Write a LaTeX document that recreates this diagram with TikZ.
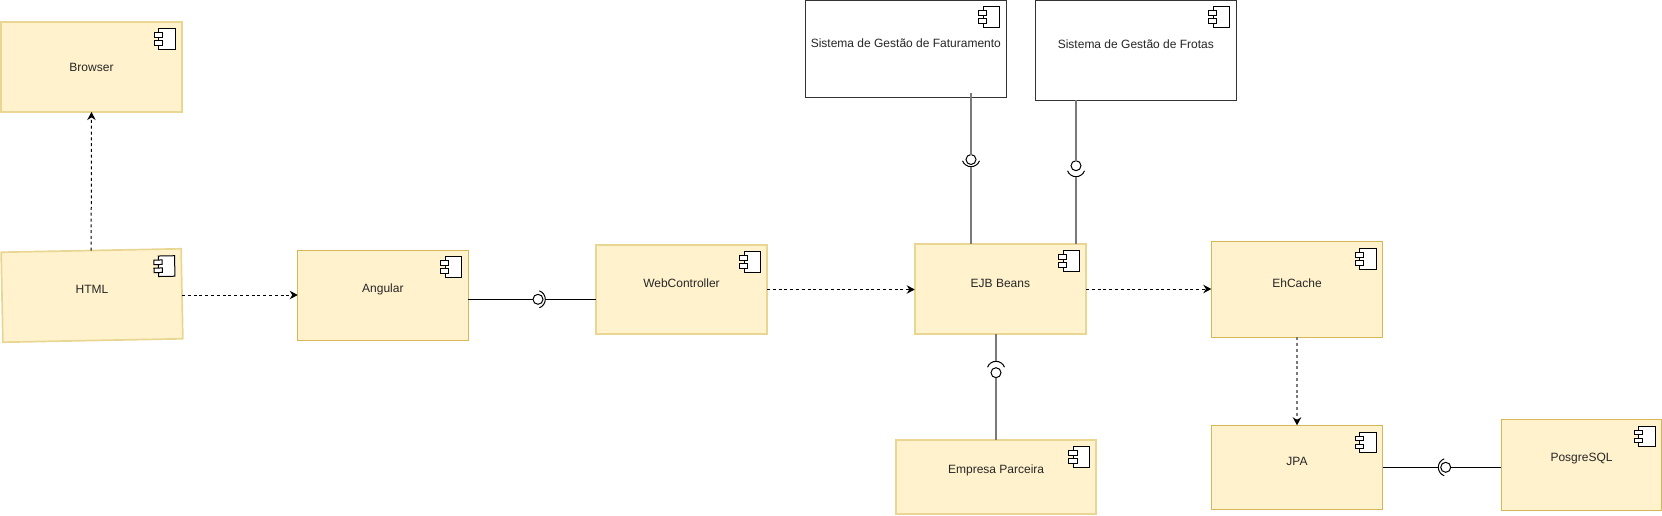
\documentclass[tikz,border=0pt]{standalone}
\usepackage{fontspec}
\setmainfont{Liberation Sans}
\usepackage{xcolor}
\usepackage{tikz}
\usetikzlibrary{arrows.meta}
\usetikzlibrary{positioning}
\definecolor{compFill}{HTML}{FFF2CC}
\definecolor{compLine}{HTML}{D6B656}
\definecolor{compSoft}{HTML}{E9D693}
\tikzstyle{comp} = [rectangle, inner sep=0pt, outer sep=0pt, fill=compFill, draw=compLine, line width=1pt]
\tikzstyle{compPale} = [comp, draw=compSoft, line width=1.7pt]
\tikzstyle{extern} = [rectangle, inner sep=0pt, outer sep=0pt, fill=white, draw=black!80, line width=1pt]
\tikzstyle{lab} = [font=\fontsize{12}{14}\selectfont, text=black!85, yshift=6pt]
\tikzstyle{icon} = [draw=black, fill=white, line width=1pt]
\tikzstyle{lolly} = [circle, inner sep=0pt, outer sep=0pt, minimum size=10pt, draw=black, line width=1pt]
\tikzstyle{sockLine} = [draw=black, line width=1pt]
\tikzstyle{link} = [draw=black, line width=1pt]
\tikzstyle{linkGray} = [draw=black!52, line width=1.8pt]
\tikzstyle{arrow} = [draw=black, line width=1pt, dash pattern=on 3pt off 2.8pt, -{Stealth[length=8pt,width=8.5pt]}]
\tikzstyle{arrowGray} = [arrow, draw=black!52, line width=1.7pt, -{Stealth[length=8pt,width=8.5pt,black]}]
\newcommand{\compicon}[2]{
    \begin{scope}[shift={(#1.north east)}, rotate=#2]
        \draw [icon] (-23,6.8) rectangle (-6.7,27.3);
        \draw [icon] (-27.5,10.8) rectangle (-19.2,15.3);
        \draw [icon] (-27.5,18.8) rectangle (-19.2,23.3);
    \end{scope}
}
\newcommand{\socketarc}[2]{
    \draw [sockLine] (#1) arc [start angle=#2, delta angle=70, radius=9] (#1) arc [start angle=#2, delta angle=-70, radius=9];
}
\begin{document}
\begin{tikzpicture}[x=1pt, y=-1pt, node distance=100pt]
    \useasboundingbox (0,0) rectangle (1662,515);
    \node (html) [compPale, rotate=1.1, minimum width=180pt, minimum height=90pt, label={[lab]center:HTML}] at (92,295.5) {};
    \node (browser) [compPale, minimum width=180.4pt, minimum height=90pt, above of=html, xshift=-0.5pt, yshift=128.5pt, label={[lab, yshift=-6pt]center:Browser}] {};
    \node (angular) [comp, minimum width=170.3pt, minimum height=90pt, right of=html, xshift=190.85pt, yshift=0.5pt, label={[lab]center:Angular}] {};
    \node (web) [compPale, minimum width=171pt, minimum height=89pt, right of=angular, xshift=198.65pt, yshift=5.5pt, label={[lab]center:WebController}] {};
    \node (ejb) [compPale, minimum width=171.3pt, minimum height=90pt, right of=web, xshift=218.85pt, yshift=0.5pt, label={[lab]center:EJB Beans}] {};
    \node (ehcache) [comp, minimum width=171.4pt, minimum height=95.6pt, right of=ejb, xshift=196.65pt, yshift=-0.5pt, label={[lab]center:EhCache}] {};
    \node (jpa) [comp, minimum width=171.4pt, minimum height=84pt, below of=ehcache, yshift=-77.8pt, label={[lab]center:JPA}] {};
    \node (posgre) [comp, minimum width=160.4pt, minimum height=91pt, right of=jpa, xshift=184.5pt, yshift=2.5pt, label={[lab]center:PosgreSQL}] {};
    \node (empresa) [compPale, minimum width=200.3pt, minimum height=74.3pt, below of=ejb, xshift=-4.2pt, yshift=-87.85pt, label={[lab]center:Empresa Parceira}] {};
    \node (fat) [extern, minimum width=200.3pt, minimum height=97.5pt, above of=ejb, xshift=-94.5pt, yshift=140.25pt, label={[lab]center:Sistema de Gestão de Faturamento}] {};
    \node (frotas) [extern, minimum width=200.3pt, minimum height=100pt, above of=ejb, xshift=135.5pt, yshift=139pt, label={[lab]center:Sistema de Gestão de Frotas}] {};
    \compicon{html}{1.1}
    \compicon{browser}{0}
    \compicon{angular}{0}
    \compicon{web}{0}
    \compicon{ejb}{0}
    \compicon{ehcache}{0}
    \compicon{jpa}{0}
    \compicon{posgre}{0}
    \compicon{empresa}{0}
    \compicon{fat}{0}
    \compicon{frotas}{0}
    \node (ifWeb) [lolly] at (538,299.3) {};
    \coordinate (sockWeb) at (545.3,299.3);
    \node (ifFat) [lolly] at (971,159.5) {};
    \coordinate (sockFat) at (971,166.7);
    \coordinate (outFat) at (971,93);
    \node (ifFrotas) [lolly] at (1076,165.7) {};
    \coordinate (sockFrotas) at (1076,176.7);
    \node (ifEmpresa) [lolly] at (996,372.7) {};
    \coordinate (sockEmpresa) at (996,361.3);
    \node (ifPosgre) [lolly] at (1445.7,467.3) {};
    \coordinate (sockPosgre) at (1438.3,467.3);
    \socketarc{sockWeb}{0}
    \socketarc{sockFat}{90}
    \socketarc{sockFrotas}{90}
    \socketarc{sockEmpresa}{-90}
    \socketarc{sockPosgre}{180}
    \draw [arrow] (html.north) -- (browser.south);
    \draw [arrow] (html.east |- angular.west) -- (angular.west);
    \draw [arrow] (web.east) -- (ejb.west |- web.east);
    \draw [arrow] (ejb.east) -- (ehcache.west |- ejb.east);
    \draw [arrowGray] (ehcache.south) -- (jpa.north);
    \draw [link] (angular.east |- ifWeb) -- (ifWeb);
    \draw [link] (sockWeb) -- (web.west |- sockWeb);
    \draw [linkGray] (outFat) -- (ifFat);
    \draw [linkGray] (sockFat) -- (sockFat |- ejb.north);
    \draw [linkGray] (frotas.south -| ifFrotas) -- (ifFrotas);
    \draw [linkGray] (sockFrotas) -- (sockFrotas |- ejb.north);
    \draw [linkGray] (ejb.south -| ifEmpresa) -- (sockEmpresa);
    \draw [linkGray] (ifEmpresa) -- (empresa.north -| ifEmpresa);
    \draw [link] (jpa.east |- sockPosgre) -- (sockPosgre);
    \draw [link] (ifPosgre) -- (posgre.west |- ifPosgre);
\end{tikzpicture}
\end{document}
